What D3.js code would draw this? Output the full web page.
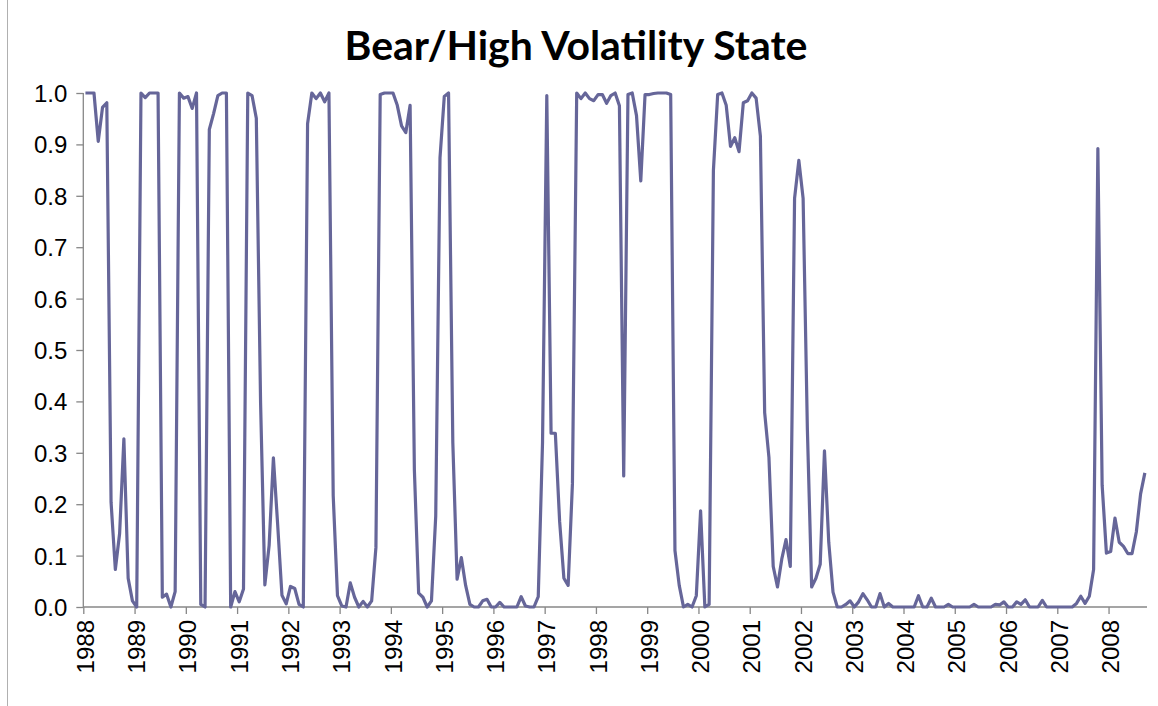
<!DOCTYPE html>
<html>
<head>
<meta charset="utf-8">
<script src="https://cdn.jsdelivr.net/npm/d3@7"></script>
<style>
  body { margin: 0; background: #fff; }
  svg { display: block; }
</style>
</head>
<body>
<div id="chart"></div>
<script>
// monthly probability of the bear / high volatility regime, Jan 1988 .. Aug 2008
const bearProb = [
  1.0, 1.0, 1.0, 0.906, 0.972, 0.981, 0.204, 0.073, 0.143, 0.327, 0.056, 0.012, // 1988
  0.0, 1.0, 0.991, 1.0, 1.0, 1.0, 0.019, 0.025, 0.0, 0.03, 1.0, 0.99,           // 1989
  0.993, 0.97, 1.0, 0.005, 0.0, 0.929, 0.96, 0.995, 1.0, 1.0, 0.0, 0.03,        // 1990
  0.01, 0.035, 1.0, 0.995, 0.951, 0.397, 0.043, 0.12, 0.29, 0.16, 0.023, 0.006, // 1991
  0.04, 0.036, 0.005, 0.0, 0.94, 1.0, 0.989, 1.0, 0.983, 1.0, 0.217, 0.022,     // 1992
  0.002, 0.0, 0.047, 0.019, 0.0, 0.011, 0.0, 0.012, 0.116, 0.997, 1.0, 1.0,     // 1993
  1.0, 0.976, 0.936, 0.923, 0.976, 0.267, 0.027, 0.019, 0.0, 0.012, 0.177, 0.874, // 1994
  0.993, 1.0, 0.32, 0.054, 0.096, 0.042, 0.005, 0.0, 0.0, 0.012, 0.015, 0.0,    // 1995
  0.0, 0.009, 0.0, 0.0, 0.0, 0.0, 0.02, 0.002, 0.0, 0.0, 0.02, 0.32,           // 1996
  0.995, 0.338, 0.338, 0.167, 0.056, 0.042, 0.24, 1.0, 0.989, 1.0, 0.989, 0.985, // 1997
  0.997, 0.997, 0.98, 0.995, 1.0, 0.975, 0.255, 0.997, 1.0, 0.956, 0.829, 0.997, // 1998
  0.997, 0.999, 1.0, 1.0, 1.0, 0.997, 0.11, 0.042, 0.0, 0.005, 0.0, 0.022,     // 1999
  0.187, 0.0, 0.005, 0.849, 0.997, 1.0, 0.976, 0.896, 0.913, 0.886, 0.981, 0.985, // 2000
  1.0, 0.99, 0.916, 0.378, 0.291, 0.079, 0.039, 0.093, 0.131, 0.079, 0.795, 0.869, // 2001
  0.795, 0.345, 0.039, 0.056, 0.083, 0.304, 0.126, 0.029, 0.0, 0.0, 0.005, 0.012, // 2002
  0.0, 0.01, 0.026, 0.014, 0.0, 0.0, 0.026, 0.0, 0.007, 0.0, 0.0, 0.0,         // 2003
  0.0, 0.0, 0.0, 0.022, 0.0, 0.0, 0.017, 0.0, 0.0, 0.0, 0.005, 0.0,            // 2004
  0.0, 0.0, 0.0, 0.0, 0.005, 0.0, 0.0, 0.0, 0.0, 0.005, 0.004, 0.01,           // 2005
  0.0, 0.0, 0.01, 0.005, 0.014, 0.0, 0.0, 0.0, 0.013, 0.0, 0.0, 0.0,           // 2006
  0.0, 0.0, 0.0, 0.0, 0.007, 0.021, 0.007, 0.021, 0.073, 0.892, 0.237, 0.105,  // 2007
  0.108, 0.173, 0.126, 0.118, 0.104, 0.104, 0.146, 0.22, 0.261                  // 2008
];
const yearLabels = d3.range(1988, 2009).map(String);
const yTicks = d3.range(0, 11).map(i => i / 10);
const chartTitle = "Bear/High Volatility State";

const width = 1158, height = 706;
const margin = { top: 93, right: 11, bottom: 99, left: 83.3 };

const svg = d3.select("#chart").append("svg")
  .attr("width", width)
  .attr("height", height);

// chart area frame
svg.append("line")
  .attr("x1", 7.5).attr("x2", 7.5).attr("y1", 0).attr("y2", height)
  .attr("stroke", "#b0b0b0").attr("stroke-width", 1);

const x = d3.scaleLinear()
  .domain([-0.5, bearProb.length - 0.5])
  .range([margin.left, width - margin.right]);

const y = d3.scaleLinear()
  .domain([0, 1])
  .range([height - margin.bottom, margin.top]);

// y axis
const yAxis = svg.append("g")
  .attr("transform", "translate(" + margin.left + ",0)")
  .call(d3.axisLeft(y).tickValues(yTicks).tickFormat(d3.format(".1f")).tickSize(7).tickPadding(9));
yAxis.selectAll("path, line").attr("stroke", "#878787").attr("stroke-width", 1.3);
yAxis.select(".domain").attr("d", "M0," + y(1) + "V" + y(0));
yAxis.selectAll("text")
  .attr("font-family", "'Liberation Sans', Arial, sans-serif")
  .attr("font-size", 24)
  .attr("fill", "#000")
  .attr("dy", "0.35em");

// x axis: ticks sit on the year boundaries, labels on January of each year
const yearIdx = yearLabels.map((d, i) => i * 12);
const xAxis = svg.append("g")
  .attr("transform", "translate(0," + y(0) + ")")
  .call(d3.axisBottom(x).tickValues(yearIdx.map(i => i - 0.5)).tickFormat("").tickSize(7));
xAxis.selectAll("path, line").attr("stroke", "#878787").attr("stroke-width", 1.3);
xAxis.select(".domain").attr("d", "M" + x(-0.5) + ",0H" + x(bearProb.length - 0.5));

svg.append("g")
  .selectAll("text")
  .data(yearLabels)
  .enter()
  .append("text")
  .attr("transform", (d, i) => "translate(" + (x(yearIdx[i]) + 8.5) + "," + (y(0) + 13) + ") rotate(-90)")
  .attr("text-anchor", "end")
  .attr("font-family", "'Liberation Sans', Arial, sans-serif")
  .attr("font-size", 24)
  .attr("fill", "#000")
  .text(d => d);

// series line
const line = d3.line()
  .x((d, i) => x(i))
  .y(d => y(d));

svg.append("path")
  .datum(bearProb)
  .attr("fill", "none")
  .attr("stroke", "#666699")
  .attr("stroke-width", 3.2)
  .attr("stroke-linejoin", "round")
  .attr("d", line);

// title
const title = svg.append("text")
  .attr("x", 576)
  .attr("y", 60)
  .attr("text-anchor", "middle")
  .attr("font-family", "Lato, 'Open Sans', sans-serif")
  .attr("font-weight", "bold")
  .attr("font-size", 36)
  .attr("fill", "#000")
  .text(chartTitle);
const tw = title.node().getComputedTextLength();
title.attr("font-size", 36 * 463 / tw);
</script>
</body>
</html>
